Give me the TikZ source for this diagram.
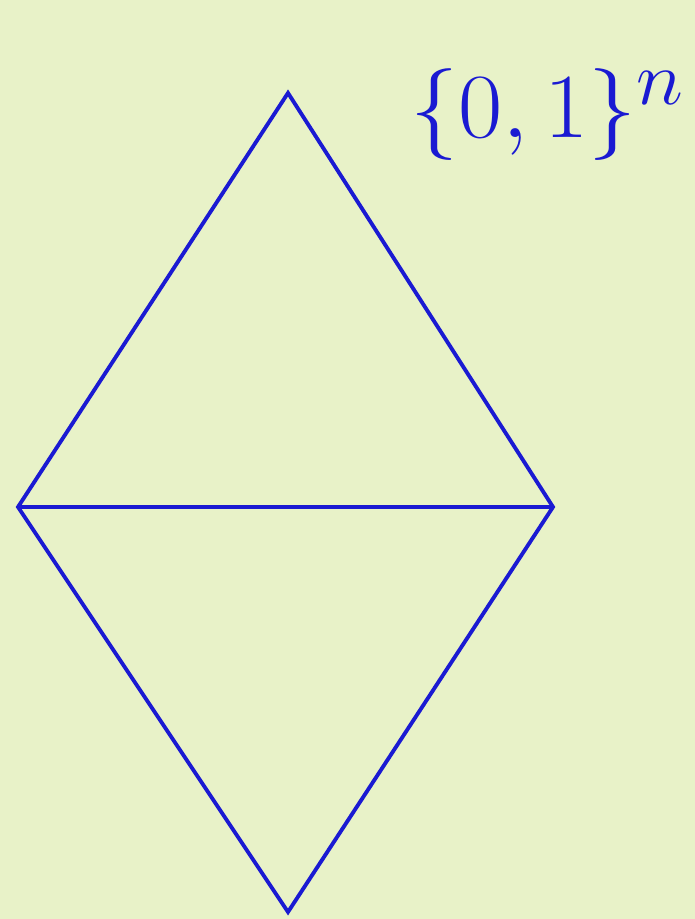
\documentclass[tikz,border=0pt]{standalone}
\usepackage{xcolor}
\usepackage{tikz}
\definecolor{paper}{HTML}{E8F2C8}
\definecolor{ink}{HTML}{1A1AD2}

\begin{document}
\begin{tikzpicture}[
  x=0.02cm, y=0.02cm,
  edge/.style={draw=ink, line width=2.2pt, line join=miter},
  setlabel/.style={text=ink, font=\Huge, inner sep=0pt}
]
\fill[paper] (0,0) rectangle (695,919);
\useasboundingbox (0,0) rectangle (695,919);
\coordinate (top) at (288,826);
\coordinate (left) at (18,412);
\coordinate (right) at (553,412);
\coordinate (bottom) at (288,7);
\node[setlabel, xscale=2.2, yscale=2.1] (cube) at (548,804) {$\{0,1\}^n$};
\draw[edge] (top) -- (left) -- (bottom) -- (right) -- cycle;
\draw[edge] (left) -- (right);
\end{tikzpicture}
\end{document}
